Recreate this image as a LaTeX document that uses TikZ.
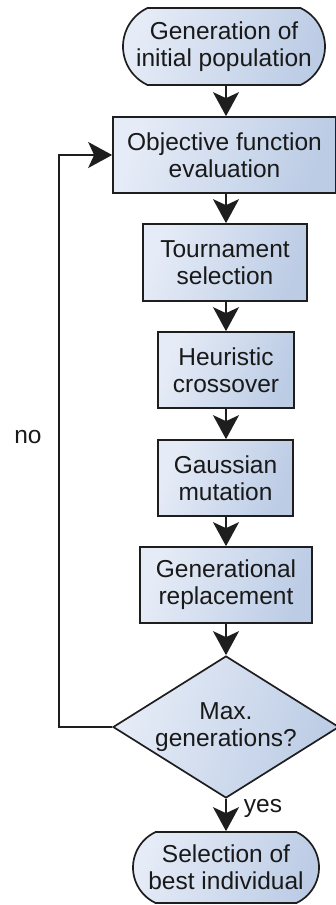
\documentclass[tikz,border=0pt]{standalone}
\usepackage{fontspec}
\setmainfont{Liberation Sans}
\usetikzlibrary{shapes.misc,shapes.geometric,arrows.meta}
\definecolor{fillA}{RGB}{230,236,247}
\definecolor{fillB}{RGB}{188,204,229}
\definecolor{edge}{RGB}{30,30,30}
\tikzset{
  base/.style={draw=edge, line width=1.7pt, left color=fillA, right color=fillB,
    shading angle=70, align=center, inner sep=0pt,
    font=\fontsize{24.5}{27}\selectfont, text=black!90},
  procbox/.style={base, rectangle},
  term/.style={base, rounded rectangle, rounded rectangle arc length=130},
  decision/.style={base, diamond, aspect=1.59},
  flow/.style={draw=edge, line width=1.7pt,
    -{Stealth[length=24pt, width=26pt, inset=6pt]}},
  lbl/.style={font=\fontsize{24.5}{27}\selectfont, text=black!90}
}
\begin{document}
\begin{tikzpicture}[x=1pt, y=-1pt]
\useasboundingbox (0,0) rectangle (336,905);

\node[term, minimum width=202pt, minimum height=77pt] (init) at (224,46.5)
  {Generation of\\initial population};
\node[procbox, minimum width=223pt, minimum height=76pt] (eval) at (224.5,155)
  {Objective function\\evaluation};
\node[procbox, minimum width=164pt, minimum height=77pt] (tour) at (225,262.5)
  {Tournament\\selection};
\node[procbox, minimum width=136pt, minimum height=76pt] (cross) at (226,370)
  {Heuristic\\crossover};
\node[procbox, minimum width=135pt, minimum height=76pt] (mut) at (225.5,478)
  {Gaussian\\mutation};
\node[procbox, minimum width=172pt, minimum height=76pt] (repl) at (226,585)
  {Generational\\replacement};
\node[decision, minimum width=226pt, minimum height=142pt] (maxg) at (226,727)
  {Max.\\generations?};
\node[term, minimum width=186pt, minimum height=71pt] (best) at (226,867.5)
  {Selection of\\best individual};

\coordinate (loopB) at (59,727);
\coordinate (loopT) at (59,155);

\draw[flow] (init.south -| 226,0) -- (eval.north -| 226,0);
\draw[flow] (eval.south -| 226,0) -- (tour.north -| 226,0);
\draw[flow] (tour.south -| 226,0) -- (cross.north);
\draw[flow] (cross.south) -- (mut.north -| 226,0);
\draw[flow] (mut.south -| 226,0) -- (repl.north);
\draw[flow] (repl.south) -- (maxg.north);
\draw[flow] (maxg.south) -- (best.north);
\draw[flow] (maxg.west) -- (loopB) -- (loopT) -- (eval.west);

\node[lbl] (no) at (28,437) {no};
\node[lbl] (yes) at (263,808) {yes};
\end{tikzpicture}
\end{document}
